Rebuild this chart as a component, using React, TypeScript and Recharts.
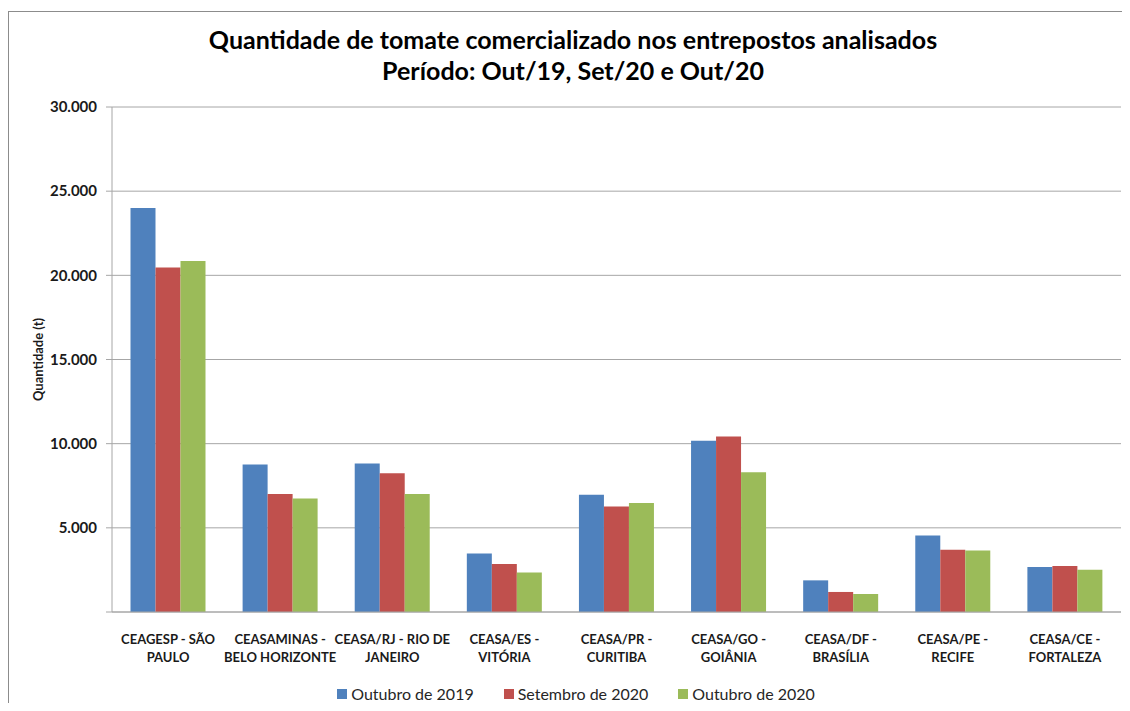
import React from "react";
import { BarChart, Bar, XAxis, YAxis, CartesianGrid, Label } from "recharts";

const markets = [
  "CEAGESP - SÃO PAULO",
  "CEASAMINAS - BELO HORIZONTE",
  "CEASA/RJ - RIO DE JANEIRO",
  "CEASA/ES - VITÓRIA",
  "CEASA/PR - CURITIBA",
  "CEASA/GO - GOIÂNIA",
  "CEASA/DF - BRASÍLIA",
  "CEASA/PE - RECIFE",
  "CEASA/CE - FORTALEZA",
];

const marketLines = [
  ["CEAGESP - SÃO", "PAULO"],
  ["CEASAMINAS -", "BELO HORIZONTE"],
  ["CEASA/RJ - RIO DE", "JANEIRO"],
  ["CEASA/ES -", "VITÓRIA"],
  ["CEASA/PR -", "CURITIBA"],
  ["CEASA/GO -", "GOIÂNIA"],
  ["CEASA/DF -", "BRASÍLIA"],
  ["CEASA/PE -", "RECIFE"],
  ["CEASA/CE -", "FORTALEZA"],
];

const out2019 = [24000, 8760, 8820, 3480, 6960, 10170, 1880, 4550, 2680];
const set2020 = [20470, 7010, 8240, 2850, 6260, 10420, 1190, 3700, 2730];
const out2020 = [20850, 6740, 7010, 2350, 6480, 8300, 1070, 3650, 2510];

const yTicks = [0, 5000, 10000, 15000, 20000, 25000, 30000];

const series = [
  { key: "out2019", name: "Outubro de 2019", color: "#4F81BD" },
  { key: "set2020", name: "Setembro de 2020", color: "#C0504D" },
  { key: "out2020", name: "Outubro de 2020", color: "#9BBB59" },
];

const font = "Lato, Carlito, Calibri, sans-serif";

const data = markets.map((m, i) => ({
  name: m,
  out2019: out2019[i],
  set2020: set2020[i],
  out2020: out2020[i],
}));

// 30000 -> "30.000", zero hidden like the original
const fmt = (v: number) =>
  v === 0 ? "" : String(v).replace(/\B(?=(\d{3})+(?!\d))/g, ".");

function MarketTick(props: any) {
  const { x, y, payload } = props;
  const lines = marketLines[payload.index] || [payload.value];
  return (
    <text x={x} y={y} textAnchor="middle" fontFamily={font} fontSize={13} fontWeight={700} fill="#1a1a1a">
      {lines.map((l, i) => (
        <tspan key={i} x={x} dy={i === 0 ? 24 : 18}>
          {l}
        </tspan>
      ))}
    </text>
  );
}

export default function App() {
  return (
    <div style={{ position: "relative", width: 1130, height: 711, margin: -8, overflow: "hidden", background: "#fff", fontFamily: font }}>
      <div style={{ position: "absolute", left: 8, top: 11, width: 1140, height: 720, border: "1px solid #8c8c8c" }} />
      <div style={{ position: "absolute", left: 0, width: 1146, top: 24, textAlign: "center", fontSize: 25, fontWeight: 700, lineHeight: "31px", color: "#000" }}>
        Quantidade de tomate comercializado nos entrepostos analisados
        <br />
        Período: Out/19, Set/20 e Out/20
      </div>
      <div style={{ position: "absolute", left: 0, top: 0 }}>
        <BarChart
          width={1130}
          height={711}
          data={data}
          margin={{ top: 107, right: 9, left: 32, bottom: 39 }}
          barCategoryGap="16.5%"
          barGap={0}
        >
          <CartesianGrid vertical={false} stroke="#a6a6a6" strokeWidth={1} />
          <XAxis
            dataKey="name"
            height={60}
            interval={0}
            tickLine={false}
            axisLine={{ stroke: "#a6a6a6" }}
            tick={<MarketTick />}
          />
          <YAxis
            width={80}
            domain={[0, 30000]}
            ticks={yTicks}
            tickFormatter={fmt}
            axisLine={{ stroke: "#a6a6a6" }}
            tickLine={{ stroke: "#a6a6a6" }}
            tickSize={6}
            tickMargin={9}
            tick={{ fontFamily: font, fontSize: 15, fontWeight: 700, fill: "#1a1a1a" }}
          >
            <Label
              content={(p: any) => {
                const vb = p.viewBox || { x: 32, y: 107, height: 505 };
                const cx = vb.x + 6;
                const cy = vb.y + vb.height / 2;
                return (
                  <text x={cx} y={cy} transform={`rotate(-90 ${cx} ${cy})`} textAnchor="middle" dominantBaseline="central" fontFamily={font} fontSize={13} fontWeight={700} fill="#1a1a1a">
                    Quantidade (t)
                  </text>
                );
              }}
            />
          </YAxis>
          {series.map((s) => (
            <Bar key={s.key} dataKey={s.key} name={s.name} fill={s.color} isAnimationActive={false} />
          ))}
        </BarChart>
      </div>
      <div style={{ position: "absolute", left: 0, width: 1152, top: 684, display: "flex", justifyContent: "center", gap: 30, fontSize: 16, color: "#262626" }}>
        {series.map((s) => (
          <div key={s.key} style={{ display: "flex", alignItems: "center" }}>
            <span style={{ display: "inline-block", width: 10, height: 10, background: s.color, marginRight: 4 }} />
            <span>{s.name}</span>
          </div>
        ))}
      </div>
    </div>
  );
}
